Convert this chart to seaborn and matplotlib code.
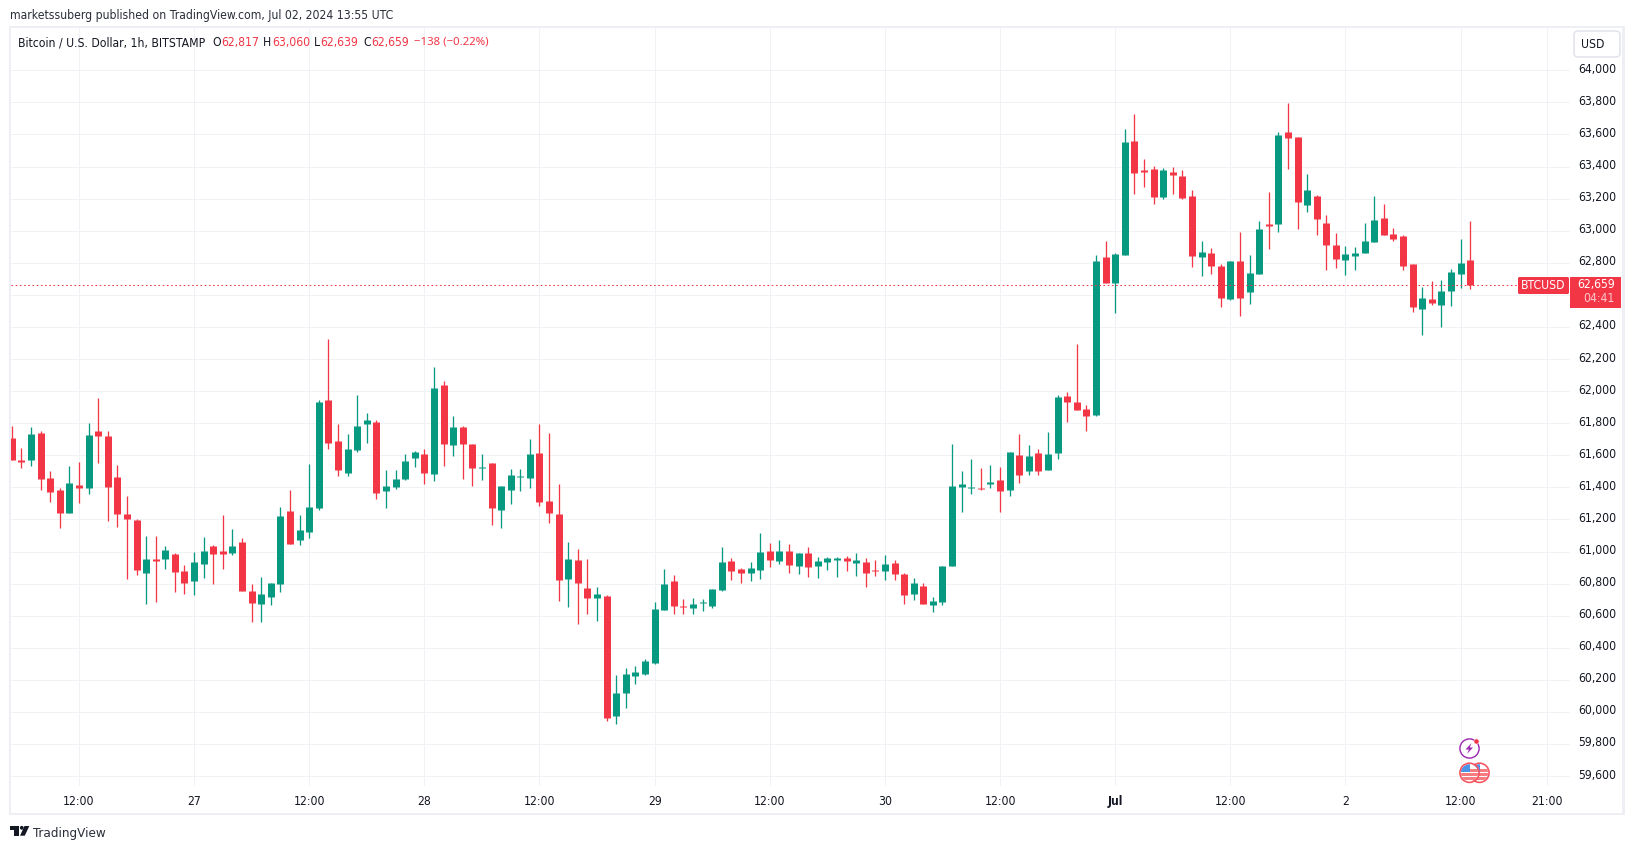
import numpy as np
import pandas as pd
import matplotlib
matplotlib.use("Agg")
import matplotlib.pyplot as plt
from matplotlib.patches import Rectangle, FancyBboxPatch, Circle, Polygon
from matplotlib.transforms import ScaledTranslation
import seaborn as sns

opens = [61709,61572,61572,61740,61459,61385,61241,61416,61397,61753,61722,61466,61235,61197,60867,60954,60954,60985,60879,60817,
         60923,61035,61004,60991,61060,60754,60673,60717,60798,61254,61073,61123,61272,61946,61690,61491,61634,61796,61809,61378,
         61403,61453,61584,61609,61484,62040,61665,61778,61671,61522,61553,61260,61384,61465,61459,61615,61316,61235,60829,60948,
         60773,60710,60723,59974,60118,60224,60236,60305,60636,60817,60661,60648,60679,60661,60760,60941,60891,60866,60885,61004,
         60941,61004,60910,60991,60910,60935,60948,60960,60929,60935,60885,60879,60929,60860,60736,60786,60667,60686,60910,61403,
         61397,61397,61422,61447,61385,61603,61503,61615,61509,61615,61971,61934,61890,61853,62835,62673,62847,63559,63378,63384,
         63209,63365,63340,63216,62835,62860,62779,62573,62810,62617,62729,63041,63041,63615,63584,63159,63216,63047,62910,62816,
         62841,62860,62929,63078,62978,62966,62791,62510,62573,62535,62623,62729,62817]
highs = [61784,61647,61778,61753,61503,61397,61534,61559,61803,61959,61753,61541,61347,61204,61098,61098,61035,60991,60917,60998,
         61091,61041,61229,61141,61085,60798,60842,60804,61278,61385,61229,61547,61946,62327,61796,61734,61977,61865,61821,61509,
         61509,61609,61628,61640,62152,62065,61846,61784,61671,61609,61553,61409,61515,61515,61703,61796,61740,61422,61060,61016,
         60954,60779,60729,60230,60274,60286,60330,60685,60891,60854,60704,60710,60704,60767,61029,60960,60898,60935,61116,61054,
         61072,61047,60991,61029,60966,60966,60966,60973,60991,60960,60948,60979,60948,60867,60835,60804,60717,60910,61672,61503,
         61578,61522,61541,61528,61622,61734,61665,61640,61746,61977,61996,62296,61915,62847,62935,62860,63634,63727,63446,63403,
         63390,63397,63378,63253,62935,62891,62791,62810,62991,62847,63060,63240,63615,63796,63584,63353,63222,63097,62985,62904,
         62897,63047,63216,63166,63016,62972,62791,62648,62685,62691,62760,62947,63060]
lows = [61572,61522,61534,61385,61310,61147,61241,61303,61360,61553,61191,61154,60829,60854,60673,60686,60892,60748,60736,60729,
        60835,60798,60892,60979,60754,60561,60561,60667,60748,61048,61041,61085,61260,61640,61472,61472,61622,61678,61328,61272,
        61391,61447,61528,61422,61441,61534,61597,61453,61409,61447,61166,61147,61297,61378,61397,61285,61178,60692,60654,60548,
        60611,60567,59943,59924,60024,60174,60230,60299,60636,60611,60611,60611,60629,60648,60754,60823,60804,60817,60829,60904,
        60923,60866,60860,60841,60835,60885,60842,60879,60848,60779,60848,60823,60823,60673,60698,60673,60623,60667,60910,61247,
        61360,61385,61397,61247,61347,61428,61478,61478,61509,61578,61809,61884,61753,61846,62673,62486,62847,63228,63272,63166,
        63197,63228,63197,62772,62716,62729,62523,62567,62467,62542,62729,62885,62991,63384,63010,63116,62972,62754,62766,62723,
        62754,62860,62929,62972,62935,62754,62492,62348,62535,62398,62529,62641,62639]
closes = [61572,61559,61734,61453,61372,61241,61428,61397,61728,61722,61403,61235,61204,60885,60954,60942,61010,60873,60804,60935,
          61004,60985,60985,61035,60754,60680,60736,60804,61222,61048,61135,61278,61934,61678,61509,61640,61784,61821,61366,61410,
          61453,61566,61622,61490,62021,61671,61778,61671,61522,61528,61272,61409,61478,61472,61609,61310,61241,60823,60954,60804,
          60710,60735,59962,60118,60236,60249,60317,60642,60798,60661,60654,60673,60685,60767,60935,60879,60866,60898,60998,60948,
          61004,60916,60991,60904,60942,60960,60960,60942,60948,60867,60879,60923,60860,60729,60804,60673,60692,60910,61410,61422,
          61403,61391,61435,61378,61622,61478,61597,61503,61609,61965,61934,61884,61846,62810,62673,62854,63553,63359,63365,63209,
          63378,63347,63203,62841,62866,62779,62579,62810,62579,62735,63010,63028,63596,63578,63178,63253,63072,62910,62822,62854,
          62860,62935,63066,62972,62947,62779,62523,62579,62548,62623,62741,62797,62659]

price_ticks = list(range(59600, 64001, 200))
time_tick_idx = [7, 19, 31, 43, 55, 67, 79, 91, 103, 115, 127, 139, 151, 160]
time_tick_labels = ["12:00", "27", "12:00", "28", "12:00", "29", "12:00", "30", "12:00", "Jul", "12:00", "2", "12:00", "21:00"]
last_price = 62659
hidden_price_label = 62600

W, H = 1634, 849
RED, GREEN = "#f23645", "#089981"
GRID = "#f1f2f6"
INK = "#131722"
FS = 8.7

sns.set_theme(style="white")
plt.rcParams["font.family"] = ["DejaVu Sans"]
plt.rcParams["font.stretch"] = "condensed"
plt.rcParams["axes.unicode_minus"] = False

fig = plt.figure(figsize=(W / 100, H / 100), dpi=100, facecolor="white")
L, R, T, B = 11, 1570, 28, 786
ax = fig.add_axes([L / W, 1 - B / H, (R - L) / W, (B - T) / H])

n = len(opens)
idx = np.arange(n)
direction = ["up" if c >= o else "down" for o, c in zip(opens, closes)]
palette = {"up": GREEN, "down": RED}

wicks = pd.DataFrame({"idx": np.repeat(idx, 2),
                      "price": np.column_stack([lows, highs]).ravel(),
                      "dir": np.repeat(direction, 2)})
bodies = pd.DataFrame({"idx": np.repeat(idx, 2),
                       "price": np.column_stack([opens, closes]).ravel(),
                       "dir": np.repeat(direction, 2)})

px = 0.72
sns.lineplot(data=wicks, x="idx", y="price", hue="dir", units="idx", estimator=None,
             palette=palette, linewidth=1.3 * px, legend=False, ax=ax,
             solid_capstyle="butt", zorder=3)
sns.lineplot(data=bodies, x="idx", y="price", hue="dir", units="idx", estimator=None,
             palette=palette, linewidth=7 * px, legend=False, ax=ax,
             solid_capstyle="butt", zorder=4)

ax.set_xlim(-0.08, 162.4)
ax.set_ylim(59538, 64264)
ax.set_xlabel("")
ax.set_ylabel("")
ax.set_yticks(price_ticks)
ax.set_yticklabels(["" if p == hidden_price_label else f"{p:,}" for p in price_ticks])
ax.set_xticks(time_tick_idx)
ax.set_xticklabels(time_tick_labels)
ax.yaxis.tick_right()
ax.tick_params(axis="y", length=0, pad=6.0, labelsize=FS, labelcolor=INK)
ax.tick_params(axis="x", length=0, pad=6.6, labelsize=FS, labelcolor=INK)
up = ScaledTranslation(0, 2.5 / 100, fig.dpi_scale_trans)
for lab in ax.get_yticklabels():
    lab.set_transform(lab.get_transform() + up)
for lab, txt in zip(ax.get_xticklabels(), time_tick_labels):
    if txt == "Jul":
        lab.set_fontweight("bold")
ax.grid(True, color=GRID, linewidth=1 * px, zorder=0)
ax.set_axisbelow(True)
for s in ax.spines.values():
    s.set_visible(False)
ax.axhline(last_price, xmin=0, xmax=(1518 - L) / (R - L), color=RED,
           linewidth=1 * px, linestyle=(0, (1.6, 2.6)), zorder=5)

# overlay in pixel coordinates for the chrome around the plot
ov = fig.add_axes([0, 0, 1, 1], zorder=10)
ov.set_xlim(0, W)
ov.set_ylim(H, 0)
ov.axis("off")
ov.patch.set_alpha(0)

FRAME = "#eeeff5"
for (x, y, w, h) in [(9, 26, 1616, 2), (9, 813, 1616, 2), (9, 26, 2, 789), (1622, 26, 3, 789)]:
    ov.add_patch(Rectangle((x, y), w, h, facecolor=FRAME, edgecolor="none"))

def label(x, y, s, color=INK, size=FS, ha="left", **kw):
    ov.text(x, y, s, color=color, fontsize=size, ha=ha, va="center", **kw)

label(10, 15.5, "marketssuberg published on TradingView.com, Jul 02, 2024 13:55 UTC", color="#2a2e39")
label(18, 42.5, "Bitcoin / U.S. Dollar, 1h, BITSTAMP")
label(212, 42.5, "O")
label(221, 42.5, "62,817", color=RED)
label(263, 42.5, "H")
label(272, 42.5, "63,060", color=RED)
label(314, 42.5, "L")
label(320, 42.5, "62,639", color=RED)
label(363, 42.5, "C")
label(371, 42.5, "62,659", color=RED)
ov.text(414, 42, "\u2212138 (\u22120.22%)", color=RED, fontsize=8.2, ha="left", va="center",
        family="Noto Sans", stretch="normal")

# USD button
ov.add_patch(FancyBboxPatch((1574, 31), 46, 26, boxstyle="round,pad=0,rounding_size=4",
                            facecolor="white", edgecolor="#e0e3eb", linewidth=1.5 * px))
label(1593, 44.5, "USD", ha="center")

# last-price tags
ov.add_patch(FancyBboxPatch((1518, 277), 51, 17, boxstyle="round,pad=0,rounding_size=1.5",
                            facecolor=RED, edgecolor="none"))
ov.add_patch(Rectangle((1570, 277), 51, 31, facecolor=RED, edgecolor="none"))
label(1543.5, 285.5, "BTCUSD", color="white", ha="center")
label(1615, 284.5, "62,659", color="white", ha="right")
label(1615, 298.5, "04:41", color="#fbc9ce", ha="right")

# event icons
PURPLE = "#9c27b0"
ov.add_patch(Circle((1469.5, 748.5), 9.6, facecolor="white", edgecolor=PURPLE, linewidth=1.4 * px))
ov.add_patch(Polygon([(1471.5, 743), (1465.5, 749.5), (1469, 749.5), (1467, 754),
                      (1473, 747.5), (1469.7, 747.5)], closed=True, facecolor=PURPLE, edgecolor="none"))
ov.add_patch(Circle((1476.5, 741.5), 2.6, facecolor=RED, edgecolor="white", linewidth=0.5 * px))

def flag(cx, cy, r=9.6):
    disc = Circle((cx, cy), r - 1, facecolor="white", edgecolor="none", zorder=3)
    ov.add_patch(disc)
    for sy in (-3.5, 0.5, 4.5):
        st = Rectangle((cx - r, cy + sy), 2 * r, 2.2, facecolor="#f77c80", edgecolor="none", zorder=3)
        ov.add_patch(st)
        st.set_clip_path(disc)
    can = Rectangle((cx - r, cy - r), r + 0.5, r - 0.5, facecolor="#4c94e8", edgecolor="none", zorder=3)
    ov.add_patch(can)
    can.set_clip_path(disc)
    ov.add_patch(Circle((cx, cy), r, facecolor="none", edgecolor="#f7525f", linewidth=1.6 * px, zorder=3))

flag(1479.5, 772.8)
flag(1469.5, 772.8)

# TradingView logo
LOGO = "#131722"
ov.add_patch(Polygon([(10, 826), (19, 826), (19, 835.7), (14.5, 835.7), (14.5, 829.5), (10, 829.5)],
                     closed=True, facecolor=LOGO, edgecolor="none"))
ov.add_patch(Circle((21.8, 827.8), 1.9, facecolor=LOGO, edgecolor="none"))
ov.add_patch(Polygon([(24.5, 826), (29.3, 826), (24.8, 835.7), (20, 835.7)],
                     closed=True, facecolor=LOGO, edgecolor="none"))
label(33, 833, "TradingView", color="#2a2e39", size=9.6)

fig.savefig("out.png", dpi=100, facecolor="white")
